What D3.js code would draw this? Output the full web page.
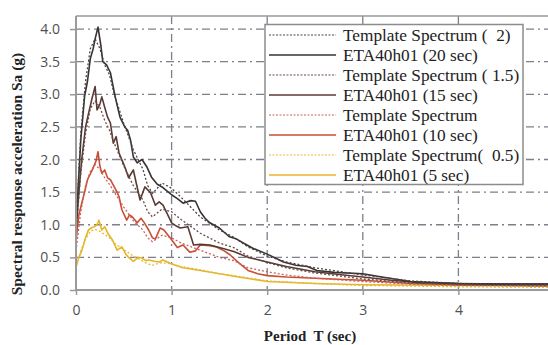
<!DOCTYPE html>
<html>
<head>
<meta charset="utf-8">
<script src="https://cdn.jsdelivr.net/npm/d3@7"></script>
<style>
  body { margin: 0; background: #fff; }
  svg { display: block; }
</style>
</head>
<body>
<div id="chart"></div>
<script>
const w = 548;
const h = 345;
const margin = { left: 76, top: 16, bottom: 55 };

// period ticks + accel ticks (the 5 s tick falls outside the picture)
const xTicks = [0, 1, 2, 3, 4];
const yTicks = [0, 0.5, 1, 1.5, 2, 2.5, 3, 3.5, 4];

// [T, Sa]
const tpl2 = [[0,1.0],[0.05,2.4],[0.1,3.2],[0.15,3.7],[0.2,3.85],[0.25,3.7],[0.3,3.45],[0.35,3.3],[0.4,3.0],[0.5,2.55],[0.6,2.15],[0.7,1.85],[0.75,1.6],[0.8,1.48],[0.9,1.64],[1.0,1.56],[1.1,1.42],[1.3,1.12],[1.5,0.92],[1.65,0.81],[1.8,0.66],[2.0,0.52],[2.2,0.43],[2.5,0.34],[3.0,0.23],[3.5,0.14],[4.0,0.1],[5.0,0.08]];
const eta20 = [[0,1.0],[0.02,1.5],[0.05,2.3],[0.09,2.97],[0.12,3.2],[0.15,3.55],[0.18,3.7],[0.2,3.85],[0.23,4.03],[0.26,3.75],[0.28,3.5],[0.32,3.45],[0.36,3.33],[0.41,2.96],[0.46,2.65],[0.51,2.5],[0.54,2.45],[0.57,2.3],[0.6,2.04],[0.64,1.95],[0.69,2.0],[0.74,1.89],[0.79,1.73],[0.85,1.62],[0.9,1.58],[0.95,1.52],[1.0,1.46],[1.06,1.4],[1.12,1.33],[1.2,1.37],[1.25,1.36],[1.3,1.2],[1.35,1.1],[1.4,1.03],[1.5,0.95],[1.6,0.82],[1.68,0.78],[1.75,0.72],[1.85,0.64],[2.0,0.55],[2.17,0.43],[2.3,0.38],[2.42,0.36],[2.52,0.3],[2.7,0.27],[3.0,0.25],[3.2,0.2],[3.5,0.13],[4.0,0.1],[4.5,0.09],[5.0,0.09]];
const tpl15 = [[0,0.85],[0.05,1.8],[0.1,2.4],[0.15,2.78],[0.2,2.9],[0.25,2.8],[0.3,2.6],[0.35,2.45],[0.4,2.25],[0.5,1.9],[0.6,1.6],[0.7,1.38],[0.75,1.2],[0.8,1.12],[0.9,1.24],[1.0,1.2],[1.1,1.08],[1.3,0.87],[1.5,0.72],[1.65,0.65],[1.8,0.52],[2.0,0.42],[2.2,0.34],[2.5,0.26],[3.0,0.17],[3.5,0.11],[4.0,0.08],[5.0,0.06]];
const eta15 = [[0,0.9],[0.03,1.5],[0.06,2.0],[0.1,2.5],[0.13,2.7],[0.17,2.95],[0.2,3.12],[0.22,2.76],[0.25,2.85],[0.27,2.96],[0.3,2.8],[0.33,2.65],[0.36,2.56],[0.39,2.25],[0.42,2.35],[0.45,2.1],[0.49,1.96],[0.52,1.85],[0.55,1.72],[0.6,1.84],[0.63,1.64],[0.67,1.38],[0.72,1.58],[0.78,1.49],[0.83,1.3],[0.87,1.35],[0.91,1.3],[0.96,1.15],[1.0,1.03],[1.05,0.98],[1.09,0.95],[1.17,0.97],[1.23,0.69],[1.3,0.7],[1.4,0.69],[1.5,0.65],[1.65,0.59],[1.8,0.5],[2.0,0.43],[2.2,0.36],[2.5,0.28],[2.8,0.23],[3.0,0.2],[3.3,0.15],[3.6,0.11],[4.0,0.1],[4.5,0.09],[5.0,0.09]];
const tpl10 = [[0,0.6],[0.05,1.2],[0.1,1.6],[0.15,1.82],[0.2,1.92],[0.25,1.85],[0.3,1.72],[0.35,1.62],[0.4,1.5],[0.5,1.27],[0.6,1.06],[0.7,0.92],[0.75,0.8],[0.8,0.74],[0.9,0.84],[1.0,0.8],[1.1,0.72],[1.3,0.61],[1.5,0.5],[1.65,0.45],[1.8,0.34],[2.0,0.28],[2.2,0.23],[2.5,0.18],[3.0,0.13],[3.5,0.09],[4.0,0.07],[5.0,0.06]];
const eta10 = [[0,0.75],[0.03,1.15],[0.06,1.33],[0.09,1.5],[0.12,1.69],[0.17,1.84],[0.21,1.98],[0.23,2.12],[0.25,1.9],[0.27,1.79],[0.3,1.84],[0.33,1.72],[0.36,1.69],[0.4,1.58],[0.43,1.5],[0.45,1.43],[0.48,1.23],[0.53,1.07],[0.56,1.15],[0.59,1.12],[0.64,1.03],[0.68,1.1],[0.71,1.04],[0.76,0.92],[0.8,0.8],[0.83,0.78],[0.88,0.95],[0.92,0.92],[1.0,0.77],[1.06,0.65],[1.12,0.69],[1.19,0.58],[1.25,0.6],[1.3,0.69],[1.4,0.68],[1.47,0.66],[1.55,0.6],[1.61,0.54],[1.7,0.42],[1.8,0.3],[1.9,0.25],[2.0,0.22],[2.2,0.2],[2.5,0.18],[3.0,0.15],[3.5,0.1],[4.0,0.08],[5.0,0.07]];
const tpl05 = [[0,0.35],[0.05,0.6],[0.1,0.78],[0.15,0.9],[0.2,0.93],[0.25,0.9],[0.3,0.85],[0.35,0.8],[0.4,0.72],[0.5,0.62],[0.6,0.52],[0.7,0.44],[0.75,0.4],[0.8,0.38],[0.9,0.42],[1.0,0.4],[1.1,0.36],[1.3,0.31],[1.5,0.25],[1.7,0.21],[2.0,0.14],[2.5,0.1],[3.0,0.07],[4.0,0.05],[5.0,0.04]];
const eta5 = [[0,0.35],[0.03,0.5],[0.06,0.6],[0.1,0.8],[0.13,0.92],[0.16,0.95],[0.19,0.97],[0.22,1.0],[0.24,1.07],[0.27,0.92],[0.3,0.97],[0.34,0.85],[0.38,0.77],[0.43,0.61],[0.48,0.66],[0.52,0.55],[0.55,0.5],[0.6,0.44],[0.65,0.5],[0.69,0.49],[0.73,0.45],[0.76,0.46],[0.82,0.44],[0.87,0.43],[0.91,0.46],[1.0,0.4],[1.12,0.34],[1.3,0.3],[1.5,0.25],[1.7,0.2],[2.0,0.13],[2.5,0.1],[3.0,0.08],[4.0,0.07],[5.0,0.06]];

const seriesNames = [
    'Template Spectrum (  2)', 'ETA40h01 (20 sec)',
    'Template Spectrum ( 1.5)', 'ETA40h01 (15 sec)',
    'Template Spectrum', 'ETA40h01 (10 sec)',
    'Template Spectrum(  0.5)', 'ETA40h01 (5 sec)'
];
const seriesData = [tpl2, eta20, tpl15, eta15, tpl10, eta10, tpl05, eta5];
const colors = ['#4a4646', '#3a3232', '#6a4a46', '#5a3a34', '#c8645a', '#c84e36', '#e0bc3c', '#e8b428'];
const dotted = [true, false, true, false, true, false, true, false];

const serif = "'Liberation Serif', 'Times New Roman', serif";

const svg = d3.select('#chart').append('svg')
    .attr('width', w)
    .attr('height', h);

const xScale = d3.scaleLinear().domain([0, 5]).range([margin.left, margin.left + 5 * 95.6]);
const yScale = d3.scaleLinear().domain([0, 4.2]).range([h - margin.bottom, margin.top]);

// grid
const grid = svg.append('g').attr('class', 'grid');
grid.selectAll('.hgrid')
    .data(yTicks.filter((d) => d > 0))
    .enter().append('line')
    .attr('x1', margin.left).attr('x2', w)
    .attr('y1', (d) => yScale(d)).attr('y2', (d) => yScale(d))
    .attr('stroke', '#7e7e8c').attr('stroke-width', 1.3)
    .attr('stroke-dasharray', '8,4,2,4');
grid.selectAll('.vgrid')
    .data(xTicks.filter((d) => d > 0))
    .enter().append('line')
    .attr('x1', (d) => xScale(d)).attr('x2', (d) => xScale(d))
    .attr('y1', yScale(4.2)).attr('y2', yScale(0))
    .attr('stroke', '#7e7e8c').attr('stroke-width', 1.3)
    .attr('stroke-dasharray', '8,4,2,4');

// top frame
svg.append('line')
    .attr('x1', margin.left).attr('x2', w)
    .attr('y1', yScale(4.2)).attr('y2', yScale(4.2))
    .attr('stroke', '#9a9a9a').attr('stroke-width', 1.5);

svg.append('clipPath').attr('id', 'plotclip')
    .append('rect')
    .attr('x', margin.left).attr('y', yScale(4.2))
    .attr('width', w - margin.left).attr('height', yScale(0) - yScale(4.2));

const lineMaker = d3.line()
    .x((d) => xScale(d[0]))
    .y((d) => yScale(d[1]));

const curves = svg.append('g').attr('clip-path', 'url(#plotclip)');
// smallest first so the darker ones sit on top
for (let i = seriesData.length - 1; i >= 0; i--) {
    curves.append('path')
        .datum(seriesData[i])
        .attr('d', lineMaker)
        .attr('fill', 'none')
        .attr('stroke', colors[i])
        .attr('stroke-width', dotted[i] ? 1.3 : 1.6)
        .attr('stroke-dasharray', dotted[i] ? '2,2' : null)
        .attr('stroke-linejoin', 'round');
}

// axes
const yAxis = d3.axisLeft(yScale).tickValues(yTicks).tickFormat(d3.format('.1f')).tickSize(6).tickPadding(10);
const yAxisGroup = svg.append('g')
    .attr('transform', `translate(${margin.left},0)`)
    .call(yAxis);
const xAxis = d3.axisBottom(xScale).tickValues(xTicks).tickFormat(d3.format('d')).tickSize(5).tickPadding(10);
const xAxisGroup = svg.append('g')
    .attr('transform', `translate(0,${yScale(0)})`)
    .call(xAxis);
[xAxisGroup, yAxisGroup].forEach((g) => {
    g.select('.domain').attr('stroke', '#9a9a9a').attr('stroke-width', 2);
    g.selectAll('.tick line').attr('stroke', '#9a9a9a').attr('stroke-width', 1.5);
    g.selectAll('.tick text')
        .attr('fill', '#505050')
        .style('font-family', "'Open Sans', 'DejaVu Sans', sans-serif")
        .style('font-size', '14px');
});
yAxisGroup.select('.domain').attr('d', `M0,${yScale(4.2)}V${yScale(0)}`);
xAxisGroup.select('.domain').attr('d', `M${margin.left},0H${w}`);

// legend
const legend = svg.append('g').attr('class', 'legend');
legend.append('rect')
    .attr('x', 265).attr('y', 24.5)
    .attr('width', 258).attr('height', 160)
    .attr('fill', '#fff')
    .attr('stroke', '#8c8c8c').attr('stroke-width', 1.5);
seriesNames.forEach((name, i) => {
    const y = 35 + i * 20;
    legend.append('line')
        .attr('x1', 269).attr('x2', 336)
        .attr('y1', y).attr('y2', y)
        .attr('stroke', colors[i])
        .attr('stroke-width', dotted[i] ? 1.2 : 1.6)
        .attr('stroke-dasharray', dotted[i] ? '2,1.5' : null);
    legend.append('text')
        .attr('transform', `translate(343,${y}) scale(1.08,1)`)
        .attr('dy', '0.35em')
        .style('font-family', serif)
        .style('font-size', '16px')
        .style('white-space', 'pre')
        .attr('fill', '#222')
        .text(name);
});

// axis titles
svg.append('text')
    .attr('transform', `translate(22,${(yScale(0) + 58) / 2}) rotate(-90)`)
    .attr('text-anchor', 'middle')
    .style('font-family', serif)
    .style('font-weight', 'bold')
    .style('font-size', '15.5px')
    .attr('fill', '#222')
    .text('Spectral response acceleration Sa (g)');
svg.append('text')
    .attr('x', 310).attr('y', 341)
    .attr('text-anchor', 'middle')
    .style('font-family', serif)
    .style('font-weight', 'bold')
    .style('font-size', '15px')
    .style('white-space', 'pre')
    .attr('fill', '#222')
    .text('Period  T (sec)');
</script>
</body>
</html>
